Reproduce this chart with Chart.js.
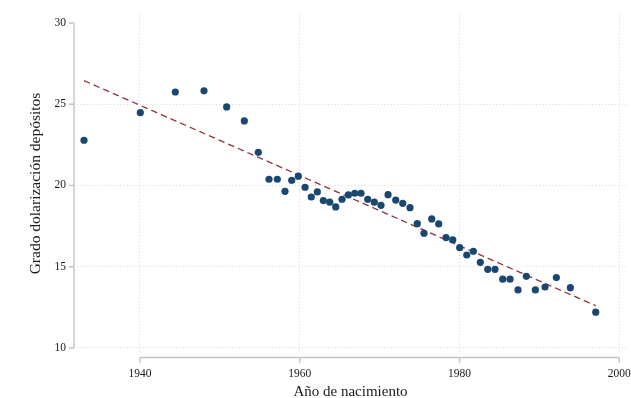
<!DOCTYPE html>
<html>
<head>
<meta charset="utf-8">
<script src="https://cdn.jsdelivr.net/npm/chart.js@4.4.1/dist/chart.umd.min.js"></script>
<style>
  html, body { margin: 0; padding: 0; background: #ffffff; }
  #wrap { width: 631px; height: 398px; }
</style>
</head>
<body>
<div id="wrap"><canvas id="c" width="631" height="398"></canvas></div>
<script>
// ---- data ----
const birthYear = [
  1932.99, 1940.04, 1944.42, 1948.01, 1950.85, 1953.06, 1954.81, 1956.15, 1957.19, 1958.15,
  1958.99, 1959.82, 1960.66, 1961.44, 1962.20, 1962.95, 1963.75, 1964.50, 1965.29, 1966.08,
  1966.88, 1967.67, 1968.51, 1969.33, 1970.17, 1971.05, 1972.01, 1972.89, 1973.80, 1974.71,
  1975.55, 1976.52, 1977.39, 1978.31, 1979.15, 1980.02, 1980.90, 1981.73, 1982.60, 1983.53,
  1984.44, 1985.41, 1986.32, 1987.32, 1988.36, 1989.49, 1990.70, 1992.12, 1993.87, 1997.05
];
const dollarization = [
  22.78, 24.48, 25.75, 25.82, 24.83, 23.97, 22.04, 20.38, 20.38, 19.64,
  20.32, 20.57, 19.89, 19.29, 19.60, 19.07, 18.97, 18.68, 19.15, 19.42,
  19.52, 19.52, 19.15, 18.97, 18.78, 19.43, 19.10, 18.90, 18.63, 17.65,
  17.06, 17.94, 17.63, 16.79, 16.65, 16.17, 15.72, 15.95, 15.27, 14.84,
  14.84, 14.23, 14.23, 13.57, 14.41, 13.57, 13.75, 14.33, 13.71, 12.20
];
const fitYear = [1932.99, 1997.05];
const fitValue = [26.45, 12.60];
const xTicks = [1940, 1960, 1980, 2000];
const yTicks = [10, 15, 20, 25, 30];
const xTitle = 'Año de nacimiento';
const yTitle = 'Grado dolarización depósitos';

// ---- styles ----
const FONT = "'Liberation Serif', 'Times New Roman', serif";
const NAVY = '#1a476f';
const MAROON = '#90353b';
const AXIS = '#c4c4c4';
const GRID = '#d8d8d8';
const TEXT = '#1a1a1a';

const axesPlugin = {
  id: 'stataAxes',
  afterDraw(chart) {
    const ctx = chart.ctx;
    const xs = chart.scales.x, ys = chart.scales.y;
    const area = chart.chartArea;
    ctx.save();
    ctx.strokeStyle = AXIS;
    ctx.lineWidth = 1.4;
    ctx.setLineDash([]);
    // y axis line & ticks
    const yTop = ys.getPixelForValue(yTicks[yTicks.length - 1]);
    const yBot = ys.getPixelForValue(yTicks[0]);
    const ax = area.left;
    ctx.beginPath();
    ctx.moveTo(ax, yTop); ctx.lineTo(ax, yBot);
    yTicks.forEach(v => { const p = ys.getPixelForValue(v); ctx.moveTo(ax - 5, p); ctx.lineTo(ax, p); });
    ctx.stroke();
    // x axis line & ticks (offset below plot region)
    const ay = area.bottom + 4.5;
    const xL = xs.getPixelForValue(xTicks[0]);
    const xR = xs.getPixelForValue(xTicks[xTicks.length - 1]);
    ctx.beginPath();
    ctx.moveTo(xL, ay); ctx.lineTo(xR, ay);
    xTicks.forEach(v => { const p = xs.getPixelForValue(v); ctx.moveTo(p, ay); ctx.lineTo(p, ay + 5.5); });
    ctx.stroke();
    ctx.restore();
  }
};

const bgPlugin = {
  id: 'bg',
  beforeDraw(chart) {
    const ctx = chart.ctx;
    ctx.save();
    ctx.fillStyle = '#ffffff';
    ctx.fillRect(0, 0, chart.width, chart.height);
    ctx.restore();
  }
};

new Chart(document.getElementById('c'), {
  type: 'scatter',
  data: {
    datasets: [
      {
        type: 'line',
        label: 'fit',
        data: fitYear.map((x, i) => ({ x: x, y: fitValue[i] })),
        borderColor: MAROON,
        borderWidth: 1.3,
        borderDash: [6.5, 4],
        pointRadius: 0,
        fill: false,
        order: 2
      },
      {
        label: 'bins',
        data: birthYear.map((x, i) => ({ x: x, y: dollarization[i] })),
        backgroundColor: NAVY,
        borderColor: NAVY,
        borderWidth: 0,
        pointRadius: 3.6,
        pointHoverRadius: 3.6,
        order: 1
      }
    ]
  },
  options: {
    responsive: false,
    animation: false,
    events: [],
    layout: { padding: { top: 14, right: 4, left: 0, bottom: 0 } },
    plugins: { legend: { display: false }, tooltip: { enabled: false } },
    scales: {
      x: {
        type: 'linear',
        min: 1931.74,
        max: 2000.96,
        afterBuildTicks: s => { s.ticks = xTicks.map(v => ({ value: v })); },
        afterFit: s => { s.height = 45; s.paddingLeft = 0; s.paddingRight = 0; },
        grid: { color: GRID, lineWidth: 1, drawTicks: false },
        border: { display: false, dash: [1, 2.3] },
        ticks: {
          padding: 14,
          color: TEXT,
          font: { family: FONT, size: 11.5 },
          maxRotation: 0,
          callback: v => String(v)
        },
        title: {
          display: true,
          text: xTitle,
          color: TEXT,
          font: { family: FONT, size: 15, lineHeight: 0.85 },
          padding: { top: 0, bottom: 0 }
        }
      },
      y: {
        type: 'linear',
        min: 9.69,
        max: 30.55,
        afterBuildTicks: s => { s.ticks = yTicks.map(v => ({ value: v })); },
        afterFit: s => { s.width = 74; s.paddingTop = 0; s.paddingBottom = 0; },
        grid: {
          color: c => (c.tick && c.tick.value === 30) ? 'rgba(0,0,0,0)' : GRID,
          lineWidth: 1,
          drawTicks: false
        },
        border: { display: false, dash: [1, 2.3] },
        ticks: {
          padding: 8,
          color: TEXT,
          font: { family: FONT, size: 11.5 },
          callback: v => String(v)
        },
        title: {
          display: true,
          text: yTitle,
          color: TEXT,
          font: { family: FONT, size: 15.5 },
          padding: { top: 27, bottom: 0 }
        }
      }
    }
  },
  plugins: [bgPlugin, axesPlugin]
});
</script>
</body>
</html>
